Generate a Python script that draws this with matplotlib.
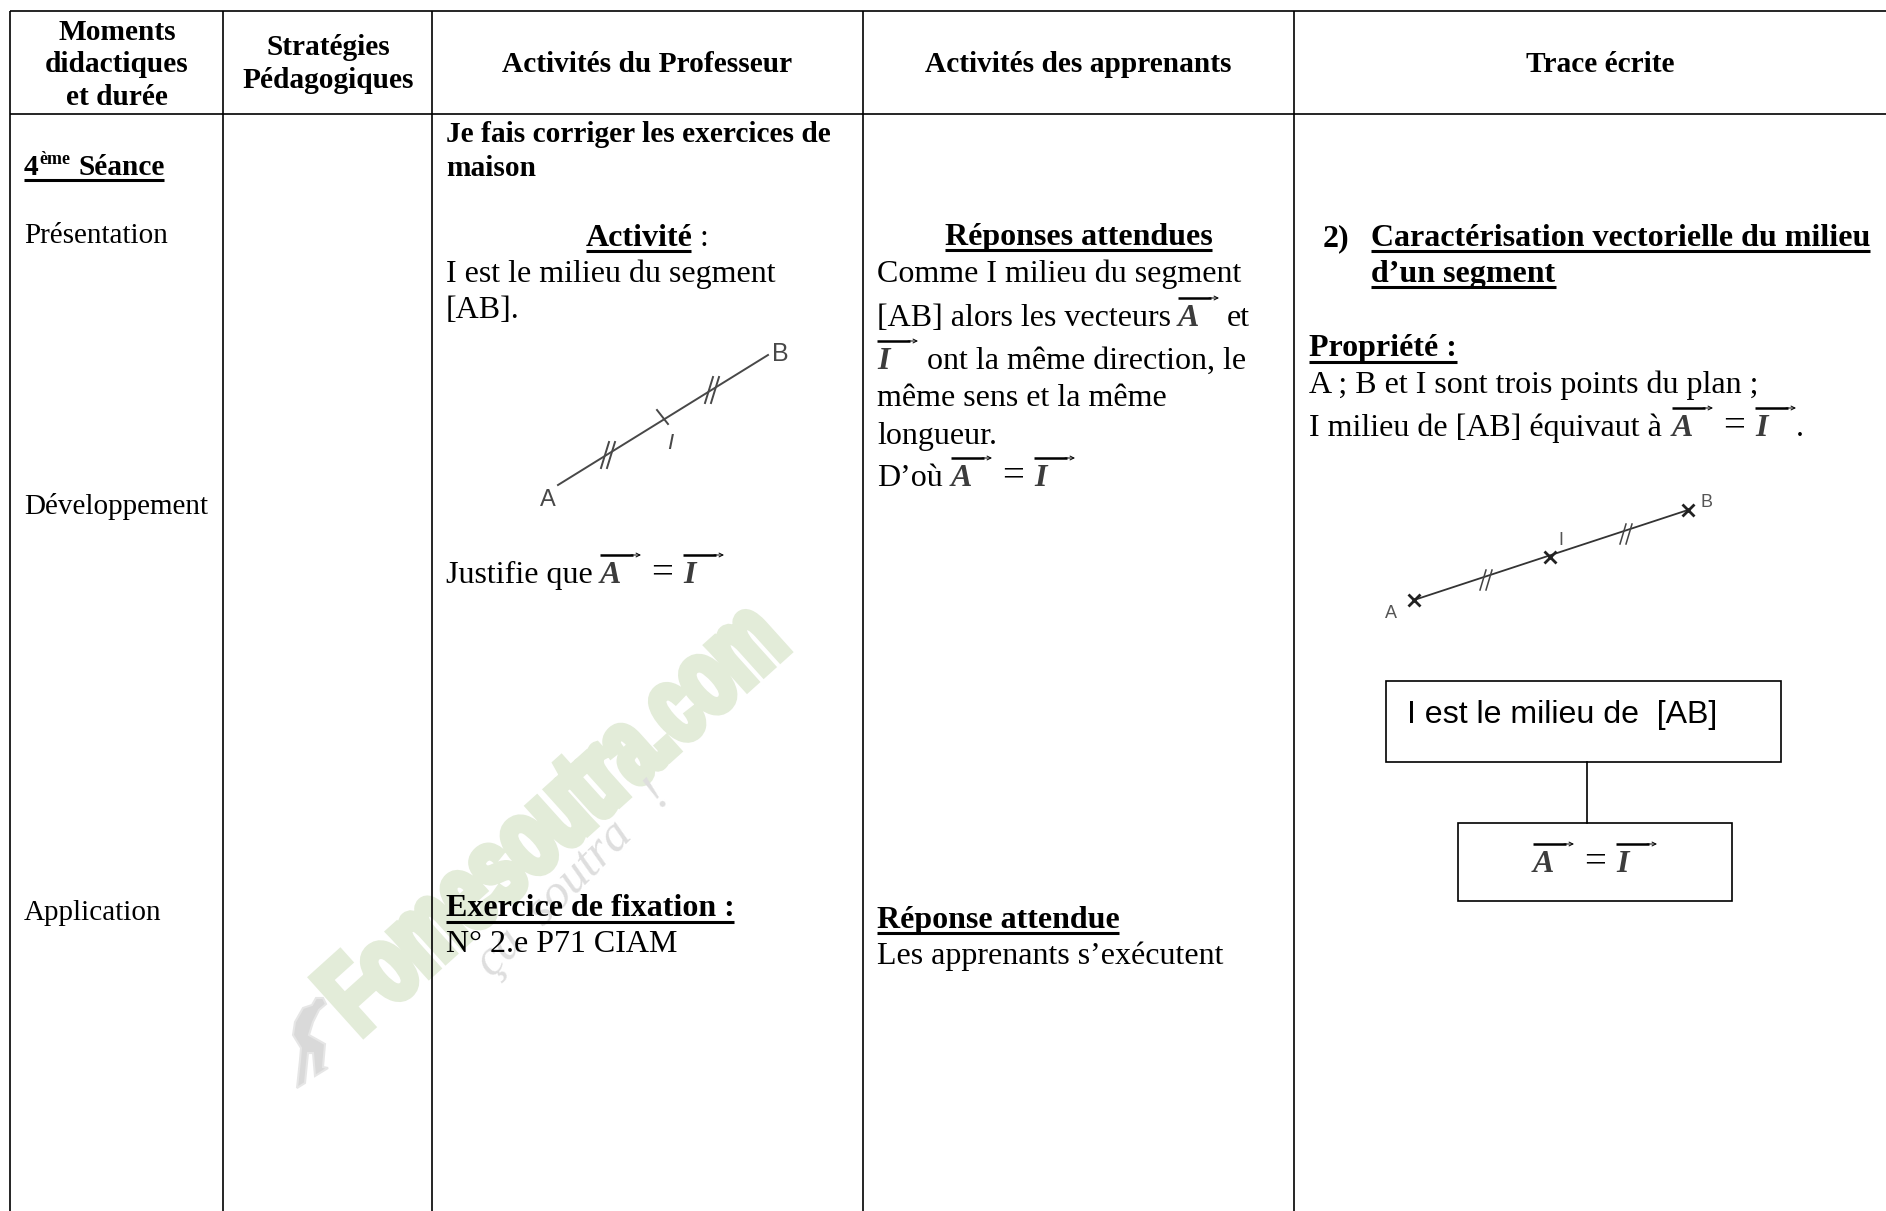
import matplotlib
matplotlib.use('Agg')
import matplotlib.pyplot as plt
from matplotlib.font_manager import FontProperties
from matplotlib.patches import PathPatch, Polygon, Rectangle
from matplotlib.textpath import TextPath
from matplotlib.transforms import Affine2D

plt.rcParams['font.family'] = ['Liberation Serif', 'DejaVu Serif']

W, H = 1886, 1211

# table text
headers = ['Moments\ndidactiques\net durée', 'Stratégies\nPédagogiques', 'Activités du Professeur',
           'Activités des apprenants', 'Trace écrite']
moments = ['Présentation', 'Développement', 'Application']
prof_lines = ['I est le milieu du segment', '[AB].', 'Justifie que', 'N° 2.e P71 CIAM']
prof_bold = ['Je fais corriger les exercices de', 'maison']
rep_lines = ['Comme I milieu du segment', '[AB] alors les vecteurs', 'et', 'ont la même direction, le',
             'même sens et la même', 'longueur.', 'D’où', 'Les apprenants s’exécutent']
trace_title = ['Caractérisation vectorielle du milieu', 'd’un segment']
trace_lines = ['A ; B et I sont trois points du plan ;', 'I milieu de [AB] équivaut à']
box_text = 'I est le milieu de  [AB]'

# table rules, in page pixels
col_edges = [10, 223, 432, 863, 1294]
row_edges = [10.5, 113.5]

BODY = 23
HEAD = 21.2
SMALL = 21

fig = plt.figure(figsize=(W / 100, H / 100), dpi=100)
ax = fig.add_axes([0, 0, 1, 1])
ax.set_xlim(0, W)
ax.set_ylim(H, 0)
ax.axis('off')


def txt(x, y, s, size=BODY, bold=False, ha='left', **kw):
    return ax.text(x, y, s, fontsize=size, fontweight='bold' if bold else 'normal', ha=ha, va='baseline',
                   color='black', zorder=5, **kw)


def under(x0, x1, y, lw=2.2):
    ax.plot([x0, x1], [y, y], color='black', lw=lw, solid_capstyle='butt', zorder=5)


def vec(x, y, letter='A', width=41):
    # overline, small arrow head and the blurred italic letter from the word equation
    ax.plot([x, x + width - 8], [y - 28, y - 28], color='black', lw=1.8, solid_capstyle='butt', zorder=5)
    ax.annotate('', xy=(x + width, y - 28), xytext=(x + width - 10, y - 28),
                arrowprops=dict(arrowstyle='->', lw=0.7, color='black', mutation_scale=7, shrinkA=0, shrinkB=0),
                zorder=5)
    ax.text(x, y, letter, fontsize=BODY, style='italic', fontweight='bold', color='#3c3c3c', ha='left',
            va='baseline', zorder=5)


def vec_eq(x, y, gap_eq=51, gap_i=83):
    vec(x, y, 'A')
    txt(x + gap_eq, y, '=', 28)
    vec(x + gap_i, y, 'I')


def sketch_ticks(points, dx, dy, off, color, lw):
    for cx, cy in points:
        for d in (-off, off):
            ax.plot([cx - dx + d, cx + dx + d], [cy + dy, cy - dy], color=color, lw=lw, zorder=4)


# watermark under the table, squeezed along the baseline like the original logo
wm_font = FontProperties(family='Liberation Sans', weight='bold')
wm_path = TextPath((0, 0), 'Fomesoutra.com', size=1, prop=wm_font)
wm_tr = Affine2D().scale(72, -110).rotate_deg(-42).translate(360, 1037)
ax.add_patch(PathPatch(wm_tr.transform_path(wm_path), fc='#e3ecd9', ec='#e3ecd9', lw=6, zorder=1))
ax.text(573, 880, 'ça  soutra   !', fontsize=36, style='italic', color='#dedede', rotation=45,
        rotation_mode='anchor', ha='center', va='center', zorder=1)
figure_pts = [(316, 998), (323, 998), (326, 1004), (319, 1010), (313, 1022), (309, 1035), (325, 1044), (323, 1067),
              (328, 1068), (315, 1076), (313, 1053), (308, 1053), (305, 1083), (297, 1088), (300, 1060), (301, 1048),
              (293, 1035), (295, 1022), (303, 1008), (312, 1005)]
ax.add_patch(Polygon(figure_pts, closed=True, fc='#d9d9d9', ec='#e6e6e6', lw=1.5, zorder=1))

# grid: no right border, the horizontal rules run off the page
for x in col_edges:
    ax.plot([x, x], [row_edges[0], H], color='black', lw=1.2, solid_capstyle='butt', zorder=3)
for y in row_edges:
    ax.plot([col_edges[0], W], [y, y], color='black', lw=1.2, solid_capstyle='butt', zorder=3)

# header row
txt(117, 40, headers[0].split('\n')[0], HEAD, True, 'center')
txt(117, 72, headers[0].split('\n')[1], HEAD, True, 'center')
txt(117, 105, headers[0].split('\n')[2], HEAD, True, 'center')
txt(328, 55, headers[1].split('\n')[0], HEAD, True, 'center')
txt(328, 88, headers[1].split('\n')[1], HEAD, True, 'center')
txt(647, 72, headers[2], HEAD, True, 'center')
txt(1078, 72, headers[3], HEAD, True, 'center')
txt(1600, 72, headers[4], HEAD, True, 'center')

# first column
txt(24, 175, '4', HEAD, True)
txt(39, 164, 'ème', 13, True)
txt(78, 175, 'Séance', HEAD, True)
under(24, 164, 180)
txt(24, 243, moments[0], SMALL)
txt(24, 514, moments[1], SMALL)
txt(24, 920, moments[2], SMALL)

# teacher column
txt(446, 142, prof_bold[0], HEAD, True)
txt(446, 176, prof_bold[1], HEAD, True)
txt(586, 246, 'Activité', BODY, True)
under(586, 691, 251)
txt(700, 246, ':')
txt(446, 282, prof_lines[0])
txt(446, 318, prof_lines[1])
txt(446, 583, prof_lines[2])
vec_eq(600, 583)
txt(446, 916, 'Exercice de fixation :', BODY, True)
under(446, 734, 922)
txt(446, 952, prof_lines[3])

# first construction sketch
ax.plot([558, 768], [485, 355], color='#484848', lw=1.4, zorder=4)
sketch_ticks([(608, 455), (712, 390)], 4, 13, 3, '#484848', 1.4)
ax.plot([657, 668], [410, 424], color='#484848', lw=1.4, zorder=4)
ax.text(548, 506, 'A', fontsize=17, family='Liberation Sans', color='#484848', ha='center', zorder=4)
ax.text(780, 361, 'B', fontsize=18, family='Liberation Sans', color='#484848', ha='center', zorder=4)
ax.text(670, 449, 'I', fontsize=16, style='italic', family='Liberation Sans', color='#484848', ha='center', zorder=4)

# learners column
txt(945, 245, 'Réponses attendues', BODY, True)
under(945, 1212, 250)
txt(877, 282, rep_lines[0])
txt(877, 326, rep_lines[1])
vec(1178, 326, 'A')
txt(1227, 326, rep_lines[2])
vec(877, 369, 'I')
txt(927, 369, rep_lines[3])
txt(877, 406, rep_lines[4])
txt(877, 444, rep_lines[5])
txt(877, 486, rep_lines[6])
vec_eq(951, 486)
txt(877, 928, 'Réponse attendue', BODY, True)
under(877, 1119, 933)
txt(877, 964, rep_lines[7])

# trace column
txt(1323, 246, '2)', BODY, True)
txt(1371, 246, trace_title[0], BODY, True)
under(1371, 1870, 251)
txt(1371, 282, trace_title[1], BODY, True)
under(1371, 1556, 287)
txt(1309, 356, 'Propriété :', BODY, True)
under(1309, 1457, 362)
txt(1309, 393, trace_lines[0])
txt(1309, 436, trace_lines[1])
vec_eq(1672, 436)
txt(1796, 436, '.')

# second construction sketch
ax.plot([1414, 1688], [600, 510], color='#333333', lw=1.3, zorder=4)
ax.plot([1414, 1550, 1688], [600, 557, 510], ls='none', marker='x', ms=9, mew=2, color='#222222', zorder=4)
sketch_ticks([(1486, 580), (1626, 534)], 3, 10, 3, '#444444', 1.1)
ax.text(1391, 618, 'A', fontsize=13, family='Liberation Sans', color='#555555', ha='center', zorder=4)
ax.text(1561, 545, 'I', fontsize=13, family='Liberation Sans', color='#555555', ha='center', zorder=4)
ax.text(1706, 507, 'B', fontsize=13, family='Liberation Sans', color='#555555', ha='center', zorder=4)

# boxes
ax.add_patch(Rectangle((1386, 681), 395, 81, fc='white', ec='black', lw=1.2, zorder=3))
ax.add_patch(Rectangle((1458, 823), 274, 78, fc='white', ec='black', lw=1.2, zorder=3))
ax.plot([1587, 1587], [762, 823], color='black', lw=1.2, zorder=3)
ax.text(1407, 723, box_text, fontsize=23.1, family='Liberation Sans', color='black', va='baseline', zorder=5)
vec_eq(1533, 872)

fig.savefig('out.png', dpi=100)
